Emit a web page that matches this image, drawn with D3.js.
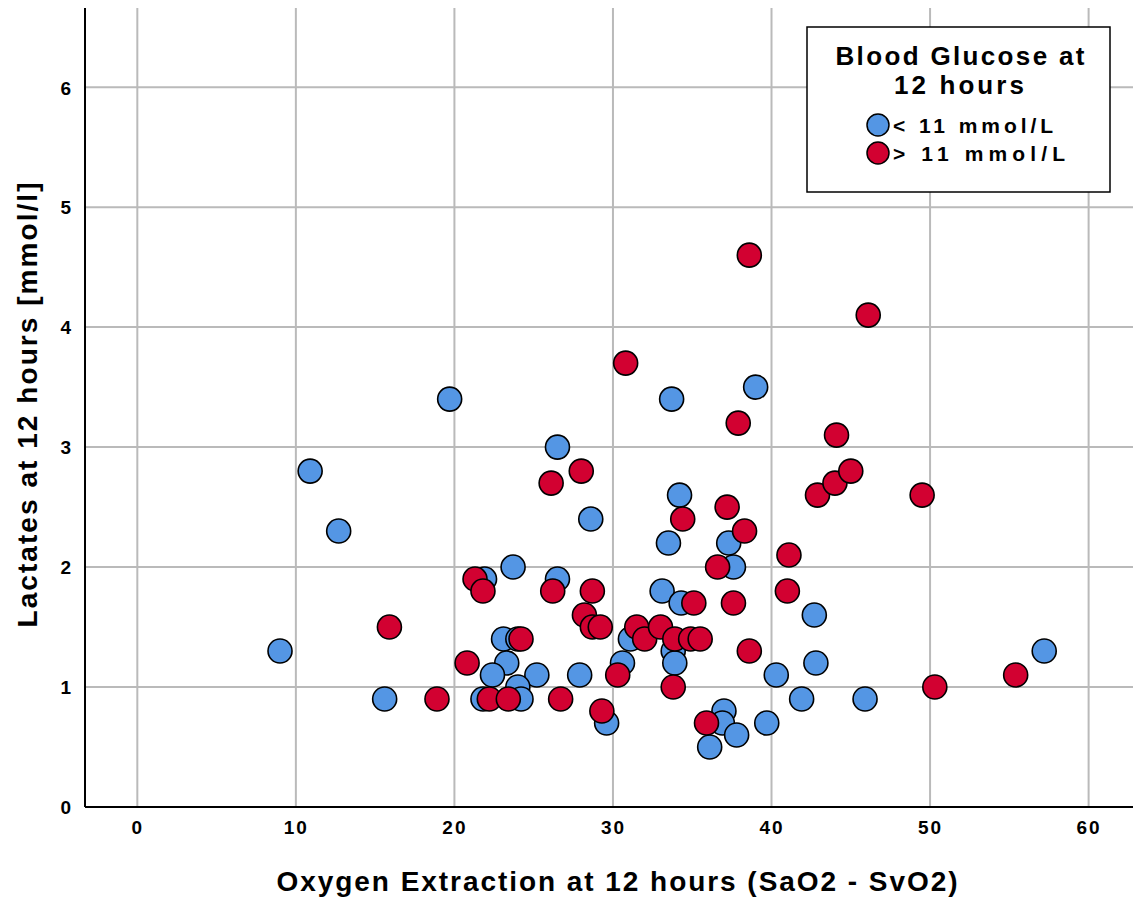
<!DOCTYPE html>
<html>
<head>
<meta charset="utf-8">
<script src="https://cdn.jsdelivr.net/npm/d3@7"></script>
<style>
  body { margin: 0; background: #fff; }
  text { font-family: "Liberation Sans", Arial, sans-serif; font-weight: bold; fill: #000; }
</style>
</head>
<body>
<div id="chart"></div>
<script>
// Blood glucose < 11 mmol/L : [oxygen extraction, lactate]
var lowGlucose = [
  [9.0, 1.3], [10.9, 2.8], [12.7, 2.3], [15.6, 0.9], [19.7, 3.4], [21.9, 1.9],
  [23.7, 2.0], [26.5, 1.9], [23.1, 1.4], [24.0, 1.4], [23.3, 1.2], [22.4, 1.1],
  [25.2, 1.1], [27.9, 1.1], [24.0, 1.0], [21.8, 0.9], [24.2, 0.9], [29.6, 0.7],
  [28.6, 2.4], [26.5, 3.0], [33.5, 2.2], [34.2, 2.6], [33.7, 3.4], [39.0, 3.5],
  [37.3, 2.2], [37.6, 2.0], [33.1, 1.8], [34.3, 1.7], [31.1, 1.4], [33.8, 1.3],
  [33.9, 1.2], [30.6, 1.2], [37.0, 0.8], [36.9, 0.7], [37.8, 0.6], [36.1, 0.5],
  [39.7, 0.7], [40.3, 1.1], [41.9, 0.9], [42.7, 1.6], [42.8, 1.2], [45.9, 0.9],
  [57.2, 1.3]
];
// Blood glucose > 11 mmol/L
var highGlucose = [
  [15.9, 1.5], [18.9, 0.9], [20.8, 1.2], [21.3, 1.9], [21.8, 1.8], [22.2, 0.9],
  [23.4, 0.9], [24.2, 1.4], [26.7, 0.9], [26.2, 1.8], [26.1, 2.7], [28.0, 2.8],
  [28.7, 1.8], [28.2, 1.6], [28.7, 1.5], [29.2, 1.5], [29.3, 0.8], [30.3, 1.1],
  [30.8, 3.7], [31.5, 1.5], [32.0, 1.4], [33.0, 1.5], [33.9, 1.4], [34.9, 1.4],
  [35.5, 1.4], [33.8, 1.0], [35.1, 1.7], [34.4, 2.4], [35.9, 0.7], [36.6, 2.0],
  [37.2, 2.5], [38.3, 2.3], [37.6, 1.7], [38.6, 1.3], [37.9, 3.2], [38.6, 4.6],
  [41.0, 1.8], [41.1, 2.1], [42.9, 2.6], [44.0, 2.7], [45.0, 2.8], [44.1, 3.1],
  [46.1, 4.1], [49.5, 2.6], [50.3, 1.0], [55.4, 1.1]
];
var xTicks = [0, 10, 20, 30, 40, 50, 60];
var yTicks = [0, 1, 2, 3, 4, 5, 6];
var groups = ["< 11 mmol/L", "> 11 mmol/L"];
var groupColors = ["#5496e4", "#d20131"];

var width = 1133, height = 899;
var plotLeft = 85, plotTop = 8, plotRight = 1133, plotBottom = 807;

var svg = d3.select("#chart").append("svg")
  .attr("width", width)
  .attr("height", height);

var x = d3.scaleLinear().domain([-3.3, 62.8]).range([plotLeft, plotRight]);
var y = d3.scaleLinear().domain([0, 6.66]).range([plotBottom, plotTop]);

// grid
svg.append("g").selectAll("line").data(xTicks).enter().append("line")
  .attr("x1", d => x(d)).attr("x2", d => x(d))
  .attr("y1", plotTop).attr("y2", plotBottom)
  .attr("stroke", "#bababa").attr("stroke-width", 2);
svg.append("g").selectAll("line").data(yTicks.slice(1)).enter().append("line")
  .attr("x1", plotLeft).attr("x2", plotRight)
  .attr("y1", d => y(d)).attr("y2", d => y(d))
  .attr("stroke", "#bababa").attr("stroke-width", 2);

// axes
var xAxis = svg.append("g")
  .attr("transform", "translate(0," + plotBottom + ")")
  .call(d3.axisBottom(x).tickValues(xTicks).tickFormat(d3.format("d")).tickSize(0).tickPadding(14));
var yAxis = svg.append("g")
  .attr("transform", "translate(" + plotLeft + ",0)")
  .call(d3.axisLeft(y).tickValues(yTicks).tickFormat(d3.format("d")).tickSize(0).tickPadding(12));
[xAxis, yAxis].forEach(function(a) {
  a.attr("font-size", null).attr("font-family", null);
  a.select(".domain").attr("stroke", "#000").attr("stroke-width", 2);
  a.selectAll("text")
    .style("font-size", "19px")
    .style("letter-spacing", "2px")
    .attr("fill", "#000");
});
yAxis.selectAll("text").attr("dy", "0.36em");
yAxis.select(".domain").attr("d", "M0," + plotBottom + "V" + plotTop);
xAxis.select(".domain").attr("d", "M" + plotLeft + ",0H" + plotRight);

// points
[lowGlucose, highGlucose].forEach(function(series, i) {
  svg.append("g").selectAll("circle").data(series).enter().append("circle")
    .attr("cx", d => x(d[0]))
    .attr("cy", d => y(d[1]))
    .attr("r", 12)
    .attr("fill", groupColors[i])
    .attr("stroke", "#000")
    .attr("stroke-width", 1.6);
});

// axis titles
svg.append("text")
  .attr("x", 617).attr("y", 891)
  .attr("text-anchor", "middle")
  .attr("font-size", 28)
  .attr("textLength", 681).attr("lengthAdjust", "spacing")
  .text("Oxygen Extraction at 12 hours (SaO2 - SvO2)");
svg.append("text")
  .attr("transform", "translate(37,405) rotate(-90)")
  .attr("text-anchor", "middle")
  .attr("font-size", 28)
  .attr("textLength", 445).attr("lengthAdjust", "spacing")
  .text("Lactates at 12 hours [mmol/l]");

// legend
var legend = svg.append("g");
legend.append("rect")
  .attr("x", 807).attr("y", 27).attr("width", 303).attr("height", 165)
  .attr("fill", "#fff").attr("stroke", "#000").attr("stroke-width", 1.5);
legend.append("text")
  .attr("x", 960).attr("y", 65).attr("text-anchor", "middle")
  .attr("font-size", 26).attr("textLength", 249).attr("lengthAdjust", "spacing")
  .text("Blood Glucose at");
legend.append("text")
  .attr("x", 959).attr("y", 94).attr("text-anchor", "middle")
  .attr("font-size", 26).attr("textLength", 130).attr("lengthAdjust", "spacing")
  .text("12 hours");
groups.forEach(function(g, i) {
  var cy = 125 + i * 28;
  legend.append("circle")
    .attr("cx", 878).attr("cy", cy).attr("r", 11)
    .attr("fill", groupColors[i]).attr("stroke", "#000").attr("stroke-width", 1.5);
  legend.append("text")
    .attr("x", 893).attr("y", cy + 8)
    .attr("font-size", 21)
    .attr("textLength", i === 0 ? 160 : 172).attr("lengthAdjust", "spacing")
    .text(g);
});
</script>
</body>
</html>
